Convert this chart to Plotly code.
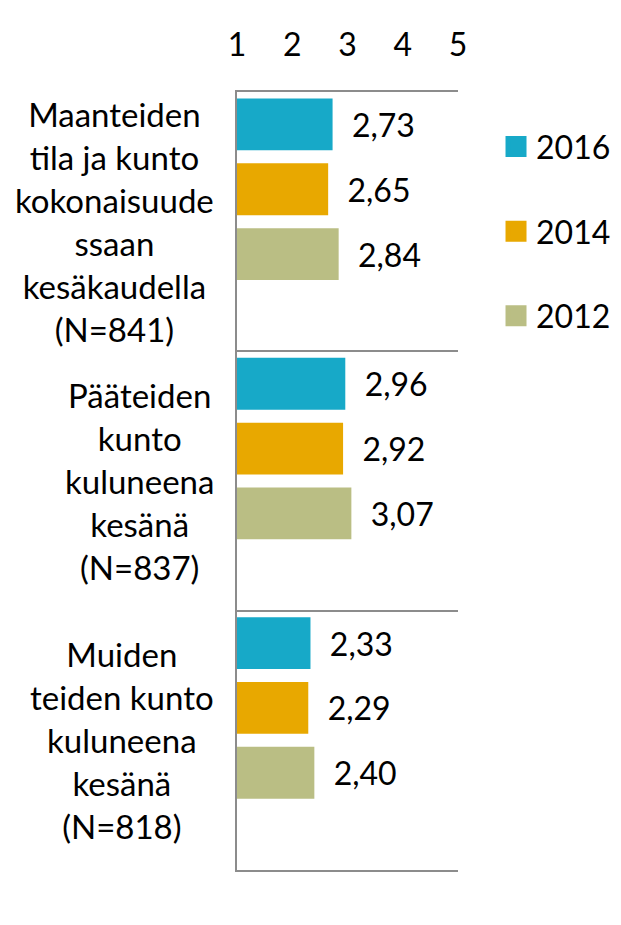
import plotly.graph_objects as go

categories = [
    "Maanteiden<br>tila ja kunto<br>kokonaisuude<br>ssaan<br>kesäkaudella<br>(N=841)",
    "Pääteiden<br>kunto<br>kuluneena<br>kesänä<br>(N=837)",
    "Muiden<br>teiden kunto<br>kuluneena<br>kesänä<br>(N=818)",
]
years = ["2016", "2014", "2012"]
v2016 = [2.73, 2.96, 2.33]
v2014 = [2.65, 2.92, 2.29]
v2012 = [2.84, 3.07, 2.40]
x_ticks = [1, 2, 3, 4, 5]

colors = ["#17A9C8", "#E8A800", "#BABE84"]
series = [v2016, v2014, v2012]
FONT = "Lato"
FS = 32

fig = go.Figure()
for name, vals, col in zip(years, series, colors):
    fig.add_trace(go.Bar(
        y=categories, x=vals, orientation="h", name=name,
        marker=dict(color=col, line=dict(width=0)),
        text=vals, texttemplate="\u00a0\u00a0%{x:.2f}", textposition="outside",
        textfont=dict(family=FONT, size=FS, color="#000"),
        constraintext="none", showlegend=False, hoverinfo="skip",
    ))
# empty spacer slot (as in the original, bars sit in the upper part of each band)
fig.add_trace(go.Bar(y=categories, x=[None] * len(categories), orientation="h",
                     showlegend=False, hoverinfo="skip"))

for i, (name, col) in enumerate(zip(years, colors)):
    fig.add_trace(go.Scatter(
        x=[None], y=[None], mode="markers", name=name, legendgroup=name,
        marker=dict(symbol="square", size=16, color=col, line=dict(color=col, width=5)),
    ))

for cat in categories:
    fig.add_annotation(
        x=-0.095, xref="paper", y=cat, yref="y", text=cat, showarrow=False,
        xanchor="right", yanchor="middle", align="center",
        font=dict(family=FONT, size=33, color="#000"),
    )

# page body has an 8px default margin, so the figure is sized to fit the window
fig.update_layout(
    width=613, height=917,
    margin=dict(l=229, r=163, t=84, b=55, autoexpand=False),
    paper_bgcolor="white", plot_bgcolor="white",
    barmode="group", bargap=0.0, bargroupgap=0.2,
    separators=", ",
    font=dict(family=FONT, size=FS, color="#000"),
    legend=dict(x=1.172, xanchor="left", y=0.821, yanchor="middle",
                font=dict(family=FONT, size=FS, color="#000"),
                tracegroupgap=40, itemsizing="trace"),
    xaxis=dict(range=[1, 5], side="top", tickvals=x_ticks, ticktext=[str(t) for t in x_ticks],
               showgrid=False, zeroline=False, ticks="", showline=True, mirror=True,
               linecolor="#8C8C8C", linewidth=2, ticklabelstandoff=21, automargin=False,
               tickfont=dict(family=FONT, size=FS, color="#000")),
    yaxis=dict(autorange="reversed", showticklabels=False, ticks="", tickson="boundaries",
               showgrid=True, gridcolor="#8C8C8C", gridwidth=2, automargin=False,
               showline=True, linecolor="#8C8C8C", linewidth=2, zeroline=False),
)

fig.write_html("out.html")
